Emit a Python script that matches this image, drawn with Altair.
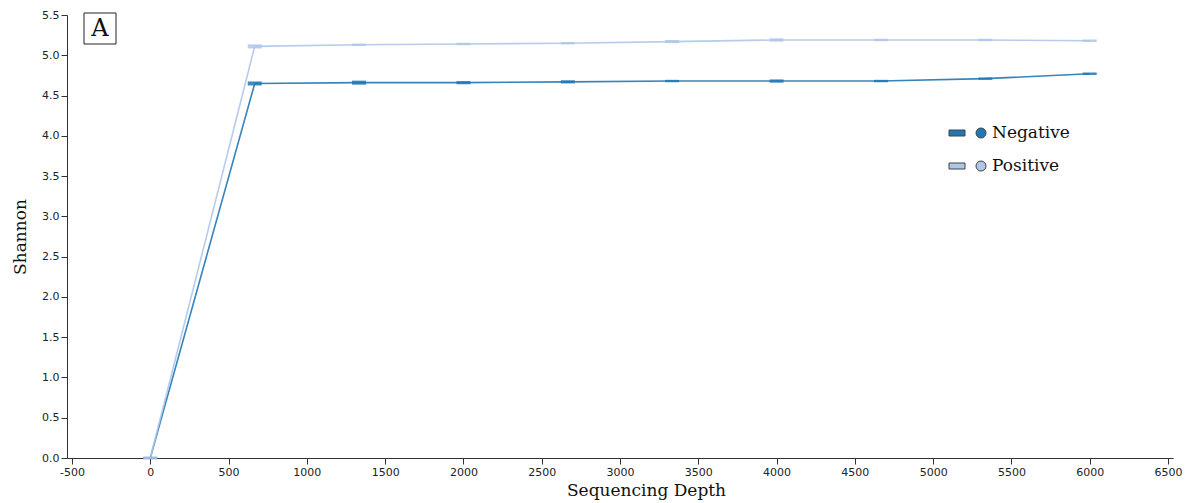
import altair as alt
import pandas as pd

series = ["Negative", "Positive"]
colors = ["#1f77b4", "#aec7e8"]
depth = [0, 667, 1333, 2000, 2667, 3333, 4000, 4667, 5333, 6000]
neg_mean = [0.0, 4.65, 4.66, 4.66, 4.67, 4.68, 4.68, 4.68, 4.71, 4.77]
pos_mean = [0.0, 5.11, 5.13, 5.14, 5.15, 5.17, 5.19, 5.19, 5.19, 5.18]
neg_err = [0.015, 0.025, 0.025, 0.02, 0.02, 0.015, 0.02, 0.015, 0.015, 0.015]
pos_err = [0.015, 0.025, 0.015, 0.015, 0.015, 0.02, 0.02, 0.015, 0.015, 0.015]

rows = []
for name, means, errs in [("Negative", neg_mean, neg_err), ("Positive", pos_mean, pos_err)]:
    for d, m, e in zip(depth, means, errs):
        rows.append({"series": name, "depth": d, "shannon": m, "lo": m - e, "hi": m + e})
df = pd.DataFrame(rows)

color = alt.Color("series:N", scale=alt.Scale(domain=series, range=colors), legend=None)
xenc = alt.X("depth:Q", scale=alt.Scale(domain=[-500, 6500], nice=False, zero=False),
             axis=alt.Axis(title="Sequencing Depth", values=list(range(-500, 7000, 500)),
                           labelExpr="'' + datum.value", titleX=579, titlePadding=5))
yenc = alt.Y("shannon:Q", scale=alt.Scale(domain=[0, 5.5], nice=False),
             axis=alt.Axis(title="Shannon", values=[i * 0.5 for i in range(12)], format=".1f",
                           titlePadding=12))

base = alt.Chart(df)
lines = base.mark_line(strokeWidth=1.6, opacity=0.9).encode(x=xenc, y=yenc, color=color, detail="series:N")
boxes = base.mark_bar(width=14, opacity=0.85).encode(
    x="depth:Q", y="lo:Q", y2="hi:Q", color=color)

layers = [lines, boxes]

# "A" panel label
lab = pd.DataFrame({"t": ["A"]})
layers.append(alt.Chart(lab).mark_rect(fill="white", stroke="#222", strokeWidth=1).encode(
    x=alt.value(17), x2=alt.value(49), y=alt.value(-2), y2=alt.value(29)))
layers.append(alt.Chart(lab).mark_text(font="DejaVu Serif", fontSize=24, color="#111",
                                       baseline="middle", align="center").encode(
    text="t:N", x=alt.value(33), y=alt.value(14)))

# custom legend
for i, (name, col) in enumerate(zip(series, colors)):
    ldf = pd.DataFrame({"t": [name]})
    yc = 118 + 33 * i
    layers.append(alt.Chart(ldf).mark_rect(fill=col, stroke="#444", strokeWidth=1).encode(
        x=alt.value(882), x2=alt.value(898), y=alt.value(yc - 3), y2=alt.value(yc + 3)))
    layers.append(alt.Chart(ldf).mark_point(shape="circle", filled=True, fill=col, stroke="#444",
                                            strokeWidth=1, size=100, opacity=1).encode(
        x=alt.value(914), y=alt.value(yc)))
    layers.append(alt.Chart(ldf).mark_text(font="DejaVu Serif", fontSize=17, color="#111",
                                           align="left", baseline="middle").encode(
        text="t:N", x=alt.value(925), y=alt.value(yc)))

chart = alt.layer(*layers).properties(
    width=1106, height=443,
    autosize=alt.AutoSizeParams(type="none"),
    padding={"left": 67, "top": 15, "right": 22, "bottom": 45},
).configure_view(stroke=None).configure_axis(
    grid=False, domainColor="#333", tickColor="#333", tickSize=6,
    labelFont="DejaVu Sans", labelFontSize=11, labelColor="#222",
    titleFont="DejaVu Serif", titleFontSize=17, titleFontWeight="normal", titleColor="#111",
)

chart.save("out.html", embed_options={"renderer": "svg", "actions": False})
